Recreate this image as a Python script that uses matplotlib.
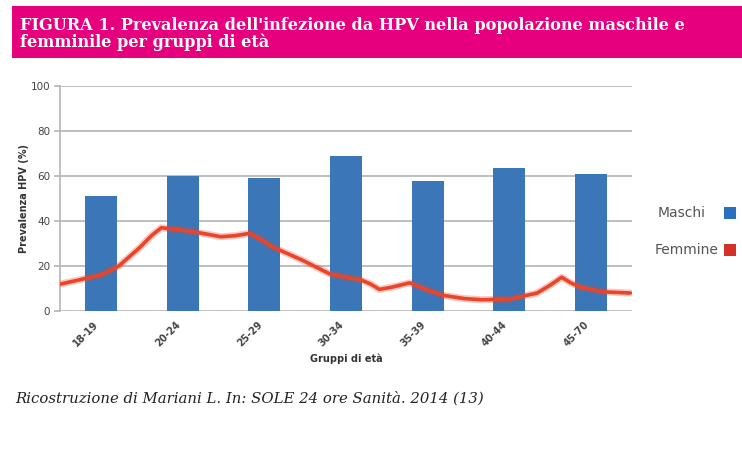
#!/usr/bin/env python3
# -*- coding=utf-8 -*-

import matplotlib
matplotlib.use("Agg")
import matplotlib.pyplot as plt
import matplotlib.patches as mpatches
import numpy as np

# dati
gruppi = ["18-19", "20-24", "25-29", "30-34", "35-39", "40-44", "45-70"]
maschi = [51, 60, 59, 69, 58, 63.5, 61]

# curva femmine: posizione lungo l'asse delle categorie e valore
femmine_pos = [-0.49, 0.0, 0.22, 0.47, 0.62, 0.74, 0.99, 1.17, 1.32, 1.47, 1.65,
               1.82, 1.95, 2.10, 2.47, 2.80, 3.0, 3.17, 3.30, 3.41, 3.55, 3.78,
               3.95, 4.18, 4.45, 4.67, 5.01, 5.34, 5.50, 5.64, 5.75, 5.87, 6.15, 6.48]
femmine = [12, 16, 20, 28, 33.5, 37, 36, 35, 34, 33, 33.5,
           34.5, 32, 28.5, 22.5, 16.5, 15, 14, 12, 9.6, 10.5, 12.5,
           10, 7, 5.5, 5, 5.3, 8, 11.5, 15, 12.5, 10.6, 8.5, 8]

y_ticks = [0, 20, 40, 60, 80, 100]

titolo = "FIGURA 1. Prevalenza dell'infezione da HPV nella popolazione maschile e\nfemminile per gruppi di età"
fonte = "Ricostruzione di Mariani L. In: SOLE 24 ore Sanità. 2014 (13)"

BLU = "#3b76b9"
ROSSO = "#e8452b"
ROSA = "#e6007e"
GRIGIO = "#b4b4b4"

W, H = 742, 473
fig = plt.figure(figsize=(W / 100, H / 100), dpi=100)
fig.patch.set_facecolor("white")

# banner del titolo
fig.patches.append(mpatches.Rectangle((12 / W, 1 - 58 / H), 1 - 12 / W, 52 / H,
                                      transform=fig.transFigure, facecolor=ROSA,
                                      edgecolor="none", zorder=0))
fig.text(20 / W, 1 - 34 / H, titolo, color="white", fontsize=11.6,
         family="DejaVu Serif", fontweight="bold", va="center", ha="left",
         linespacing=1.0)

ax = fig.add_axes([60 / W, 1 - 311 / H, 572 / W, 225 / H])
x = np.arange(len(gruppi))
ax.bar(x, maschi, width=0.39, color=BLU, zorder=2)
ax.plot(femmine_pos, femmine, color=ROSSO, lw=5, alpha=0.3, zorder=3,
        solid_joinstyle="round", solid_capstyle="round")
ax.plot(femmine_pos, femmine, color=ROSSO, lw=2.6, zorder=4,
        solid_joinstyle="round", solid_capstyle="round")

ax.set_xlim(-0.5, len(gruppi) - 0.5)
ax.set_ylim(0, 100)
ax.set_yticks(y_ticks)
ax.yaxis.grid(True, color=GRIGIO, lw=1.2, zorder=0)
ax.set_axisbelow(True)
for s in ["top", "right", "bottom"]:
    ax.spines[s].set_visible(False)
ax.spines["left"].set_color(GRIGIO)
ax.spines["left"].set_linewidth(1.2)
ax.tick_params(axis="y", length=4, color=GRIGIO, width=1.2, labelsize=7.5,
               labelcolor="#444444", pad=3)
ax.set_xticks(x)
ax.set_xticklabels(gruppi, rotation=45, ha="right", va="top", fontsize=7,
                   color="#444444", fontweight="bold")
ax.tick_params(axis="x", length=0, pad=6)
ax.set_ylabel("Prevalenza HPV (%)", fontsize=7, fontweight="bold", color="#333333",
              labelpad=1)
ax.set_xlabel("Gruppi di età", fontsize=7, fontweight="bold", color="#333333",
              labelpad=4)

# legenda a destra
fig.text(658 / W, 1 - 213 / H, "Maschi", fontsize=10, color="#555555",
         va="center", ha="left")
fig.text(655 / W, 1 - 250 / H, "Femmine", fontsize=10, color="#555555",
         va="center", ha="left")
fig.patches.append(mpatches.Rectangle((724 / W, 1 - 219 / H), 12 / W, 12 / H,
                                      transform=fig.transFigure, facecolor="#2a6fc0",
                                      edgecolor="none"))
fig.patches.append(mpatches.Rectangle((724 / W, 1 - 256 / H), 12 / W, 12 / H,
                                      transform=fig.transFigure, facecolor="#d4302a",
                                      edgecolor="none"))

fig.text(15 / W, 1 - 398 / H, fonte, fontsize=10.7, style="italic",
         family="DejaVu Serif", color="#222222", va="center", ha="left")

plt.savefig("out.png", dpi=100)
